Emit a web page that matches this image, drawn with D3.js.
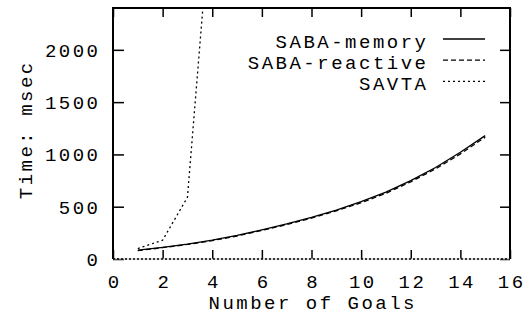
<!DOCTYPE html>
<html>
<head>
<meta charset="utf-8">
<script src="https://cdn.jsdelivr.net/npm/d3@7"></script>
<style>
  body { margin: 0; background: #fff; }
  svg text { font-family: "Liberation Mono", "DejaVu Sans Mono", monospace; font-size: 19px; letter-spacing: 2.5px; fill: #000; }
</style>
</head>
<body>
<svg id="chart" width="532" height="314"></svg>
<script>
// data
const goals = [1, 2, 3, 4, 5, 6, 7, 8, 9, 10, 11, 12, 13, 14, 15];
const sabaMemory = [85, 112, 143, 180, 225, 278, 335, 398, 468, 548, 640, 750, 875, 1020, 1180];
const sabaReactive = [80, 108, 139, 176, 220, 273, 329, 391, 460, 538, 628, 738, 862, 1005, 1165];
const savtaGoals = [1, 2, 3, 4];
const savta = [100, 180, 590, 3500];
const seriesNames = ["SABA-memory", "SABA-reactive", "SAVTA"];
const xTicks = [0, 2, 4, 6, 8, 10, 12, 14, 16];
const yTicks = [0, 500, 1000, 1500, 2000];

const width = 532, height = 314;
const margins = { left: 113, right: 22, top: 8, bottom: 55 };
const ls = 2.5; // letter spacing, to widen the mono font like the courier of the original

const svg = d3.select("#chart");

const x = d3.scaleLinear().domain([0, 16]).range([margins.left, width - margins.right]);
const y = d3.scaleLinear().domain([0, 2400]).range([height - margins.bottom, margins.top]);

const styles = [
  { dash: null },
  { dash: "5,3" },
  { dash: "2,3" },
];

svg.append("defs").append("clipPath").attr("id", "plot-clip")
  .append("rect")
  .attr("x", x(0)).attr("y", y(2400))
  .attr("width", x(16) - x(0)).attr("height", y(0) - y(2400));

// axes - gnuplot style: ticks point inward, mirrored on top / right
const bottomAxis = svg.append("g")
  .attr("transform", `translate(0,${y(0)})`)
  .call(d3.axisBottom(x).tickValues(xTicks).tickSizeInner(-9).tickSizeOuter(0).tickFormat(d3.format("d")));
bottomAxis.selectAll("text").attr("y", 28.5).attr("dy", 0).attr("dx", ls / 2);

svg.append("g")
  .attr("transform", `translate(0,${y(2400)})`)
  .call(d3.axisTop(x).tickValues(xTicks).tickSizeInner(-9).tickSizeOuter(0).tickFormat(""));

const leftAxis = svg.append("g")
  .attr("transform", `translate(${x(0)},0)`)
  .call(d3.axisLeft(y).tickValues(yTicks).tickSizeInner(-11).tickSizeOuter(0).tickFormat(d3.format("d")));
leftAxis.selectAll("text").attr("x", -15).attr("dx", ls).attr("dy", "0.34em");

svg.append("g")
  .attr("transform", `translate(${x(16)},0)`)
  .call(d3.axisRight(y).tickValues(yTicks).tickSizeInner(-10).tickSizeOuter(0).tickFormat(""));

svg.selectAll(".domain").remove();
svg.selectAll(".tick line").attr("stroke", "#000").attr("stroke-width", 1.5);

// frame
const frame = svg.append("g").attr("fill", "none");
frame.append("path")
  .attr("d", `M${x(0)},${y(0)}V${y(2400)}H${x(16)}V${y(0)}`)
  .attr("stroke", "#000").attr("stroke-width", 2);
frame.append("line")
  .attr("x1", x(0)).attr("x2", x(16)).attr("y1", y(0)).attr("y2", y(0))
  .attr("stroke", "#bbb").attr("stroke-width", 1);
// zero axis (dotted)
frame.append("line")
  .attr("x1", x(0)).attr("x2", x(16)).attr("y1", y(0)).attr("y2", y(0))
  .attr("stroke", "#000").attr("stroke-width", 1.5).attr("stroke-dasharray", "2,2");

// lines
const line = d3.line().x(d => x(d[0])).y(d => y(d[1]));
const series = [
  goals.map((g, i) => [g, sabaMemory[i]]),
  goals.map((g, i) => [g, sabaReactive[i]]),
  savtaGoals.map((g, i) => [g, savta[i]]),
];

svg.append("g").attr("clip-path", "url(#plot-clip)")
  .selectAll("path")
  .data(series)
  .join("path")
  .attr("fill", "none")
  .attr("stroke", "#000")
  .attr("stroke-width", 1.3)
  .attr("stroke-dasharray", (d, i) => styles[i].dash)
  .attr("d", line);

// legend
const legend = svg.append("g")
  .selectAll("g")
  .data(seriesNames)
  .join("g")
  .attr("transform", (d, i) => `translate(0,${39 + i * 21.2})`);

legend.append("text")
  .attr("x", 426 + ls)
  .attr("y", 8.6)
  .attr("text-anchor", "end")
  .text(d => d);

legend.append("line")
  .attr("x1", 443).attr("x2", 485)
  .attr("stroke", "#000")
  .attr("stroke-width", 1.3)
  .attr("stroke-dasharray", (d, i) => styles[i].dash);

// axis titles
svg.append("text")
  .attr("x", (x(0) + x(16)) / 2 + ls / 2)
  .attr("y", 309)
  .attr("text-anchor", "middle")
  .text("Number of Goals");

svg.append("text")
  .attr("transform", `translate(31.5,${131 - ls / 2}) rotate(-90)`)
  .attr("text-anchor", "middle")
  .text("Time: msec");
</script>
</body>
</html>
